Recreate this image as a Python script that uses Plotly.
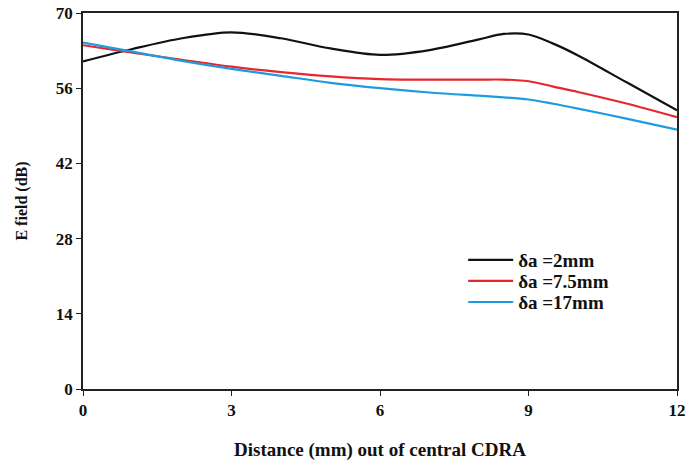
import plotly.graph_objects as go

# Distance out of the central CDRA (mm)
distance = [0, 1, 2, 3, 4, 5, 6, 7, 8, 8.5, 9, 9.5, 10, 11, 12]

# E field (dB) for each spacing
efield_2mm = [61.0, 63.3, 65.3, 66.4, 65.3, 63.4, 62.2, 63.1, 65.1, 66.1, 66.0, 64.3, 62.1, 57.0, 51.9]
efield_7_5mm = [64.0, 62.6, 61.3, 60.0, 59.0, 58.2, 57.7, 57.6, 57.6, 57.6, 57.3, 56.3, 55.3, 53.1, 50.6]
efield_17mm = [64.5, 62.8, 61.1, 59.6, 58.3, 57.0, 56.0, 55.2, 54.6, 54.3, 53.9, 53.1, 52.2, 50.3, 48.3]

series_names = ["\u03b4a =2mm", "\u03b4a =7.5mm", "\u03b4a =17mm"]
series_colors = ["#111111", "#e8262d", "#1e9be0"]
legend_ids = ["legend", "legend2", "legend3"]
legend_rows = [0.343, 0.287, 0.231]

x_ticks = [0, 3, 6, 9, 12]
y_ticks = [0, 14, 28, 42, 56, 70]

serif = "Liberation Serif, Times New Roman, serif"

fig = go.Figure()
for name, vals, color, lg in zip(series_names, [efield_2mm, efield_7_5mm, efield_17mm],
                                 series_colors, legend_ids):
    fig.add_trace(go.Scatter(
        x=distance, y=vals, mode="lines", name=name, legend=lg,
        line=dict(color=color, width=2.2, shape="spline", smoothing=0.9),
    ))

axis_common = dict(
    showgrid=False, zeroline=False, automargin=False,
    showline=True, linecolor="#222222", linewidth=1.5, mirror=True,
    ticks="outside", ticklen=5, tickcolor="#222222", tickwidth=1.2,
    tickfont=dict(family=serif, size=17, weight="bold"),
)

# one legend box per series so the rows can sit close together
legend_style = dict(
    x=0.64, xanchor="left", yanchor="middle",
    bgcolor="rgba(0,0,0,0)", borderwidth=0,
    font=dict(family=serif, size=19, color="#111111", weight="bold"),
    itemwidth=45,
)
legend_layout = {lg: dict(y=row, **legend_style) for lg, row in zip(legend_ids, legend_rows)}

fig.update_layout(
    width=686, height=464,
    margin=dict(l=83, r=9, t=13, b=75),
    paper_bgcolor="white", plot_bgcolor="white",
    font=dict(family=serif, color="#111111"),
    xaxis=dict(
        range=[0, 12], tickvals=x_ticks, ticktext=[str(v) for v in x_ticks],
        title=dict(text="Distance (mm) out of central CDRA",
                   font=dict(family=serif, size=19, weight="bold"), standoff=24),
        **axis_common,
    ),
    yaxis=dict(
        range=[0, 70], tickvals=y_ticks, ticktext=[str(v) for v in y_ticks],
        title=dict(text="E field (dB)",
                   font=dict(family=serif, size=16, weight="bold"), standoff=24),
        **axis_common,
    ),
    showlegend=True,
    **legend_layout,
)

fig.write_html("out.html")
